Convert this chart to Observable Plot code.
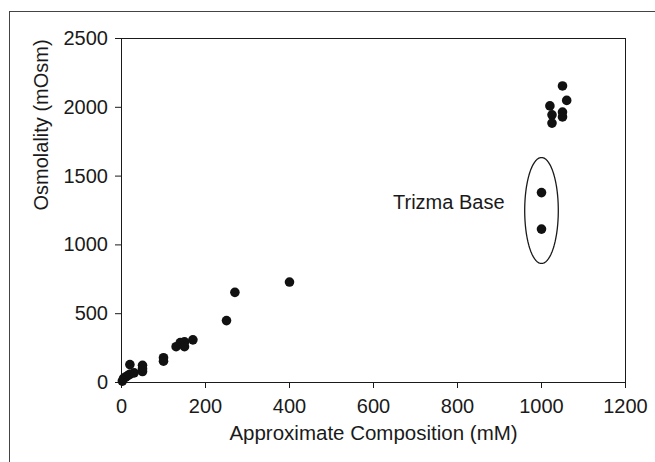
<!DOCTYPE html>
<html><head><meta charset="utf-8">
<script src="https://cdn.jsdelivr.net/npm/d3@7"></script>
<script src="https://cdn.jsdelivr.net/npm/@observablehq/plot@0.6"></script>
<style>
html,body{margin:0;padding:0;background:#fff;}
#wrap{position:relative;width:655px;height:462px;overflow:hidden;}
#chart{position:absolute;left:0;top:0;}
#border{position:absolute;left:9px;top:11px;width:700px;height:500px;border-left:1px solid #444;border-top:1px solid #444;pointer-events:none;}
</style></head><body>
<div id="wrap"><div id="chart"></div><div id="border"></div></div>
<script>
// Data
const composition = [2, 5, 10, 15, 20, 30, 20, 50, 50, 50, 100, 100, 130, 140, 150, 150, 170, 250, 270, 400, 1000, 1000, 1020, 1025, 1025, 1050, 1060, 1050, 1050];
const osmolality  = [10, 30, 40, 50, 60, 70, 130, 125, 100, 80, 180, 155, 260, 290, 295, 260, 310, 450, 655, 730, 1380, 1115, 2010, 1945, 1885, 2155, 2050, 1965, 1930];
const xTicks = [0, 200, 400, 600, 800, 1000, 1200];
const yTicks = [0, 500, 1000, 1500, 2000, 2500];
const xLabel = "Approximate Composition (mM)";
const yLabel = "Osmolality (mOsm)";
const annotationText = ["Trizma Base"];
const annotationPos = [912, 1310];
const ellipseCenter = [1000, 1250];
const ellipseRadius = [40, 385];

const points = composition.map((c, i) => ({c, o: osmolality[i]}));
const ellipse = d3.range(0, 120).map(k => {
  const t = (k / 120) * 2 * Math.PI;
  return {x: ellipseCenter[0] + ellipseRadius[0] * Math.cos(t), y: ellipseCenter[1] + ellipseRadius[1] * Math.sin(t)};
});

const chart = Plot.plot({
  width: 655,
  height: 462,
  marginLeft: 121,
  marginRight: 30,
  marginTop: 38,
  marginBottom: 80,
  style: {fontFamily: "'Liberation Sans', Arial, sans-serif", fontSize: "20px", color: "#1a1a1a", background: "transparent"},
  x: {domain: [0, 1200]},
  y: {domain: [0, 2500]},
  marks: [
    Plot.frame({stroke: "#1a1a1a", strokeWidth: 1}),
    Plot.axisX({ticks: xTicks, tickSize: 6, tickPadding: 10, tickFormat: d => String(d), label: null, fontSize: 20, stroke: "#1a1a1a"}),
    Plot.axisY({ticks: yTicks, tickSize: 6, tickPadding: 7.5, tickFormat: d => String(d), label: null, fontSize: 20, stroke: "#1a1a1a"}),
    Plot.text([xLabel], {frameAnchor: "bottom", dy: 57, text: d => d, fontSize: 20.5, fill: "#1a1a1a"}),
    Plot.text([yLabel], {frameAnchor: "left", dx: -80, rotate: -90, text: d => d, fontSize: 20, fill: "#1a1a1a"}),
    Plot.line(ellipse, {x: "x", y: "y", curve: "linear-closed", stroke: "#1a1a1a", strokeWidth: 1.3}),
    Plot.text(annotationText, {x: () => annotationPos[0], y: () => annotationPos[1], text: d => d, textAnchor: "end", fontSize: 20, fill: "#1a1a1a"}),
    Plot.dot(points, {x: "c", y: "o", r: 4.8, fill: "#111", stroke: "none"})
  ]
});
document.getElementById("chart").appendChild(chart);
</script>
</body></html>
